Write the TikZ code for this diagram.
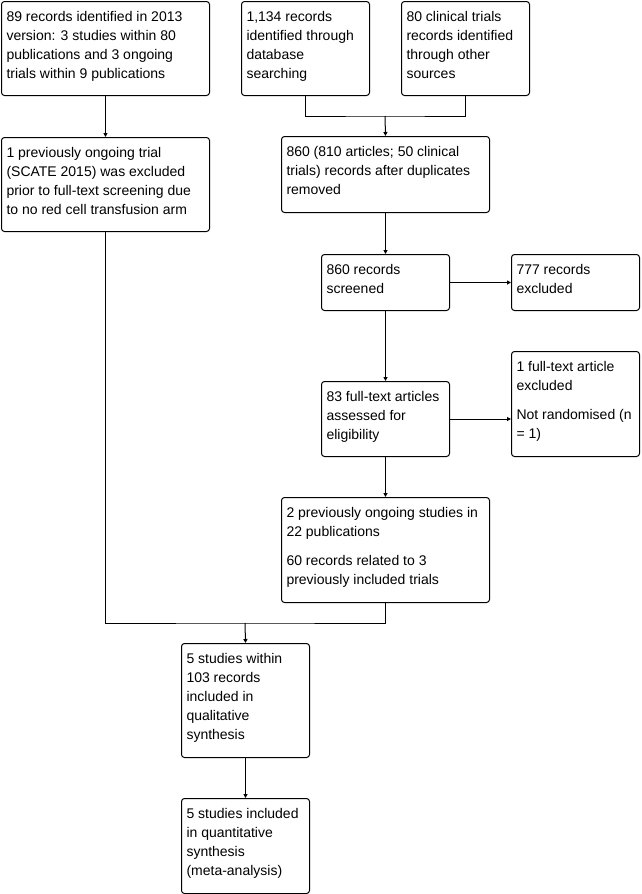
\documentclass[tikz,border=0pt]{standalone}
\usepackage{fontspec}
\setmainfont{Liberation Sans}
\usetikzlibrary{arrows.meta}

\newcommand{\boxtext}[3]{\parbox[t][#2][t]{#1}{\raggedright\rule{0pt}{20pt}#3}}

\begin{document}
\begin{tikzpicture}[x=1pt, y=-1pt, line width=1pt,
  flowbox/.style={draw, rounded corners=3pt, anchor=north west, inner xsep=5pt, inner ysep=0pt, font=\fontsize{14}{19}\selectfont},
  flowarrow/.style={-{Triangle[length=4pt, width=4pt]}}]
  \useasboundingbox (0,0) rectangle (642,894);

  % sources
  \node[flowbox] (old) at (1,1) {\boxtext{198pt}{94pt}{89 records identified in 2013\\ version: 3 studies within 80\\ publications and 3 ongoing\\ trials within 9 publications}};
  \node[flowbox] (db) at (241,1) {\boxtext{118pt}{94pt}{1,134 records\\ identified through\\ database\\ searching}};
  \node[flowbox] (other) at (401,1) {\boxtext{118pt}{94pt}{80 clinical trials\\ records identified\\ through other\\ sources}};

  % left branch
  \node[flowbox] (scate) at (1,137) {\boxtext{198pt}{94pt}{1 previously ongoing trial\\ (SCATE 2015) was excluded\\ prior to full-text screening due\\ to no red cell transfusion arm}};

  % screening
  \node[flowbox] (dupl) at (281,136) {\boxtext{198pt}{76pt}{860 (810 articles; 50 clinical\\ trials) records after duplicates\\ removed}};
  \node[flowbox] (screened) at (321,254) {\boxtext{118pt}{56pt}{860 records\\ screened}};
  \node[flowbox] (excl) at (511,254) {\boxtext{118pt}{56pt}{777 records\\ excluded}};
  \node[flowbox] (fulltext) at (321,381) {\boxtext{118pt}{75pt}{83 full-text articles\\ assessed for\\ eligibility}};
  \node[flowbox] (ftexcl) at (511,351) {\boxtext{118pt}{105pt}{1 full-text article\\ excluded\par\vspace{10pt}Not randomised (n\\ = 1)}};
  \node[flowbox] (ongoing) at (281,497) {\boxtext{198pt}{105pt}{2 previously ongoing studies in\\ 22 publications\par\vspace{10pt}60 records related to 3\\ previously included trials}};

  % included
  \node[flowbox] (qual) at (181,643) {\boxtext{118pt}{114pt}{5 studies within\\ 103 records\\ included in\\ qualitative\\ synthesis}};
  \node[flowbox] (quant) at (181,798) {\boxtext{118pt}{95pt}{5 studies included\\ in quantitative\\ synthesis\\ (meta-analysis)}};

  \coordinate (topjoin) at (385,116);
  \coordinate (bottomjoin) at (245,623);

  \draw[flowarrow] (old) -- (scate);
  \draw (db.south) |- (topjoin) -| (other.south);
  \draw[flowarrow] (topjoin) -- (dupl.north);
  \draw[flowarrow] (dupl) -- (screened);
  \draw[flowarrow] (screened) -- (excl);
  \draw[flowarrow] (screened) -- (fulltext);
  \draw[flowarrow] (fulltext.east) -- (fulltext.east -| ftexcl.west);
  \draw[flowarrow] (fulltext.south) -- (fulltext.south |- ongoing.north);
  \draw (scate.south) |- (bottomjoin) -| (ongoing.south);
  \draw[flowarrow] (bottomjoin) -- (qual.north);
  \draw[flowarrow] (qual) -- (quant);
\end{tikzpicture}
\end{document}
